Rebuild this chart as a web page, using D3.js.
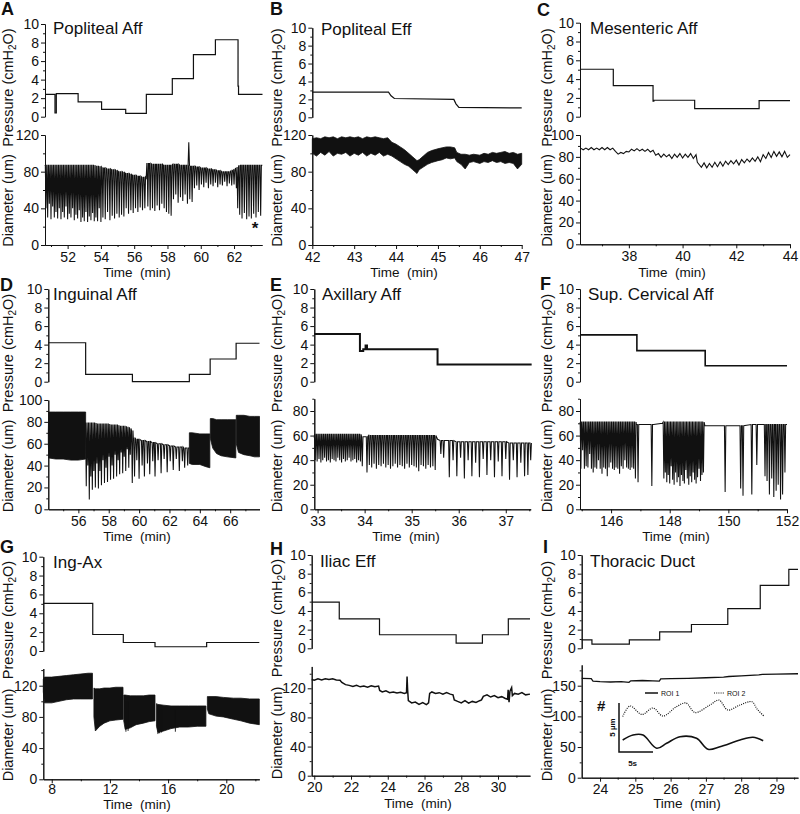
<!DOCTYPE html>
<html><head><meta charset="utf-8">
<script src="https://cdn.jsdelivr.net/npm/d3@7"></script>
<style>body{margin:0;background:#fff}svg{display:block}text{font-family:'Liberation Sans',Arial,Helvetica,sans-serif;fill:#111}</style>
</head><body><svg id="c" width="800" height="814"></svg>
<script>
// ---------------- DATA ----------------
const panelLetters = ["A","B","C","D","E","F","G","H","I"];
const panelTitles = ["Popliteal Aff","Popliteal Eff","Mesenteric Aff","Inguinal Aff","Axillary Aff","Sup. Cervical Aff","Ing-Ax","Iliac Eff","Thoracic Duct"];
const pTicks = [0,2,4,6,8,10];
const pMinor = [1,3,5,7,9];

// x tick labels (time, min)
const xTicksA=[52,54,56,58,60,62], xMinorA=[51,53,55,57,59,61,63];
const xTicksB=[42,43,44,45,46,47], xMinorB=[42.5,43.5,44.5,45.5,46.5];
const xTicksC=[38,40,42,44], xMinorC=[37,39,41,43];
const xTicksD=[56,58,60,62,64,66], xMinorD=[55,57,59,61,63,65,67];
const xTicksE=[33,34,35,36,37], xMinorE=[33.5,34.5,35.5,36.5,37.5];
const xTicksF=[146,148,150,152], xMinorF=[145,147,149,151];
const xTicksG=[8,12,16,20], xMinorG=[10,14,18,22];
const xTicksH=[20,22,24,26,28,30], xMinorH=[21,23,25,27,29,31];
const xTicksI=[24,25,26,27,28,29], xMinorI=[24.5,25.5,26.5,27.5,28.5,29.5];
// diameter tick labels (um)
const dTicks120=[0,40,80,120], dMinor120=[20,60,100,140];
const dTicks100=[0,20,40,60,80,100], dMinor100=[10,30,50,70,90];
const dTicks80=[0,20,40,60,80], dMinor80=[10,30,50,70,90];
const dTicks150=[0,50,100,150], dMinor150=[25,75,125,175];

// Pressure traces [time, cmH2O]
const presA=[[50.64,2.4],[51.24,0.4],[51.32,2.5],[52.63,1.6],[54.04,0.8],[55.49,0.35],[56.73,2.4],[58.29,4.1],[59.56,6.7],[60.88,8.3],[62.24,3.3],[62.27,2.4],[63.71,2.4]];
const presB=[[42,2.8],[43.82,2.8],[43.88,2.4],[43.96,2.1],[45.38,2.0],[45.43,1.5],[45.5,1.1],[47,1.05]];
const presC=[[36.18,5.05],[37.42,3.3],[38.9,1.65],[38.93,1.75],[40.45,0.85],[42.85,1.7],[44,1.7]];
const presD=[[54.02,4.2],[56.48,0.8],[59.56,0.0],[63.31,0.8],[64.68,2.45],[66.39,4.15],[67.93,4.15]];
const presE=[[32.93,5.15],[33.9,3.3],[33.97,3.5],[34.02,3.9],[34.05,3.5],[35.55,1.85],[37.55,1.85]];
const presF=[[144.94,5.05],[146.88,3.35],[149.21,1.72],[152,1.72]];
const presG=[[7.42,5.05],[10.82,1.75],[12.92,0.9],[15.1,0.45],[18.65,0.9],[22.27,0.9]];
const presH=[[19.86,4.95],[21.36,3.15],[23.55,1.45],[27.72,0.55],[29.15,1.45],[30.56,3.15],[31.74,3.15]];
const presI=[[23.48,0.9],[23.77,0.45],[24.83,0.9],[25.69,1.75],[26.59,2.55],[27.62,4.25],[28.54,6.75],[29.35,8.45],[29.61,8.45]];

// Diameter contraction events [time, EDD (top), ESD (bottom)]
const diaA=[[50.64,86,86],[50.70,87,40],[50.80,87,30],[50.90,87,45],[51.00,87,28],[51.10,87,42],[51.20,87,30],[51.30,87,36],[51.40,87,29],[51.50,87,40],[51.60,87,28],[51.70,87,36],[51.80,87,30],[51.90,87,42],[52.00,87,28],[52.10,87,34],[52.20,87,30],[52.30,87,40],[52.40,87,27],[52.50,87,33],[52.60,87,29],[52.70,87,38],[52.80,87,25],[52.90,87,30],[53.00,87,26],[53.10,87,36],[53.20,87,25],[53.30,87,31],[53.40,87,27],[53.50,87,35],[53.60,87,26],[53.70,86,30],[53.80,86,26],[53.90,86,40],[54.00,85,25],
[54.12,84,30],[54.26,84,28],[54.40,83,36],[54.54,83,27],[54.68,82,32],[54.82,82,29],[54.96,81,34],[55.10,80,30],[55.24,80,33],[55.38,79,31],[55.52,78,40],[55.66,78,34],[55.80,77,38],[55.94,76,35],[56.08,76,40],[56.22,75,36],[56.36,75,41],[56.50,74,38],[56.64,74,40],[56.72,73,73],
[56.76,89,89],[56.82,89,42],[56.96,89,38],[57.10,88,40],[57.24,88,37],[57.38,88,43],[57.52,88,38],[57.66,88,45],[57.80,87,40],[57.94,87,36],[58.08,87,34],[58.22,87,32],
[58.36,88,50],[58.50,88,55],[58.64,88,46],[58.78,87,52],[58.92,87,48],[59.06,87,55],[59.20,87,45],[59.28,87,112],[59.34,86,50],[59.48,86,47],
[59.62,86,62],[59.76,85,65],[59.90,85,60],[60.04,84,66],[60.18,84,63],[60.32,84,68],[60.46,83,62],[60.60,83,66],[60.74,82,64],[60.88,82,68],[61.02,81,63],[61.16,81,66],[61.30,80,65],[61.44,80,69],[61.58,80,64],[61.72,80,67],[61.86,81,65],[62.00,82,66],[62.14,84,62],[62.22,85,40],
[62.34,87,33],[62.48,87,29],[62.62,87,35],[62.76,87,28],[62.90,87,31],[63.04,87,29],[63.18,87,34],[63.32,87,30],[63.46,87,36],[63.60,87,32],[63.70,87,87]];

// Dense bands [time, upper, lower] (null = gap)
const bandB=[[42.00,116,100],[42.1,117,97],[42.2,116,101],[42.3,118,98],[42.4,117,102],[42.5,118,97],[42.6,116,100],[42.7,118,99],[42.8,117,101],[42.9,118,97],[43.0,117,100],[43.1,118,98],[43.2,116,101],[43.3,118,97],[43.4,117,100],[43.5,118,98],[43.6,117,101],[43.7,116,97],[43.8,117,99],[43.9,112,97],[44.0,110,94],[44.1,107,91],[44.2,104,88],[44.3,100,86],[44.4,96,82],[44.5,92,78],[44.55,93,82],[44.65,97,85],[44.75,101,88],[44.85,103,90],[45.0,105,92],[45.1,106,93],[45.2,107,95],[45.3,107,94],[45.4,106,95],[45.45,101,91],[45.55,99,88],[45.65,99,83],[45.75,98,90],[45.85,99,91],[46.0,98,89],[46.1,100,91],[46.2,99,90],[46.3,101,92],[46.4,100,90],[46.5,101,91],[46.6,102,89],[46.7,100,90],[46.8,101,89],[46.9,99,83],[47.0,100,88]];

// Mesenteric diameter trace [time, um]
const diaC=[[36.2,88],[36.3,86.5],[36.4,88],[36.5,86.5],[36.6,88.5],[36.7,86.5],[36.8,88],[36.9,86.5],[37.0,88.5],[37.1,86.5],[37.2,88.5],[37.3,86.5],[37.4,88],[37.5,85],[37.6,82.5],[37.7,84],[37.8,83],[37.9,85],[38.0,84.5],[38.1,87],[38.2,85.5],[38.3,87.5],[38.4,85.5],[38.5,87],[38.6,85],[38.7,87],[38.8,84.5],[38.9,86],[39.0,81.5],[39.1,83],[39.2,79.5],[39.3,82.5],[39.4,80],[39.5,82],[39.6,78.5],[39.7,82.5],[39.8,79.5],[39.9,83],[40.0,79],[40.1,82.5],[40.2,79.5],[40.3,83],[40.4,78.5],[40.5,82],[40.55,75],[40.7,70.5],[40.8,74.5],[40.9,70],[41.0,74],[41.1,70.5],[41.2,75],[41.3,71],[41.4,75.5],[41.5,71.5],[41.6,76],[41.7,73],[41.8,76.5],[41.9,73.5],[42.0,77],[42.1,72.5],[42.2,77.5],[42.3,74.5],[42.4,78],[42.5,75.5],[42.6,79],[42.7,76],[42.8,80],[42.9,75.5],[43.0,82],[43.1,78.5],[43.2,84],[43.3,79.5],[43.4,85],[43.5,80.5],[43.6,84.5],[43.7,80],[43.8,85],[43.9,79.5],[44.0,82]];

const bandD=[[54.02,72,62],[54.05,89,47],[54.5,89,46],[55.0,89,46],[55.5,89,45],[56.0,89,45],[56.48,89,46],null,
[63.31,70,42],[63.5,70,41],[64.0,69,41],[64.4,69,39],[64.66,69,38],null,
[64.69,83,65],[64.85,83,56],[65.1,82,51],[65.4,82,49],[65.8,82,48],[66.37,82,47],null,
[66.40,86,60],[66.55,86,52],[66.9,86,50],[67.3,85,49],[67.6,85,48],[67.93,85,48]];
const diaD=[[56.50,79,79],[56.52,79,21],[56.62,79,40],[56.72,79,9],[56.82,79,30],[56.92,79,18],[57.02,79,35],[57.12,79,20],[57.22,78,42],[57.32,78,19],[57.42,78,35],[57.52,78,22],[57.62,78,45],[57.72,78,24],[57.82,78,38],[57.92,78,25],[58.02,78,48],[58.12,77,27],[58.22,77,40],[58.32,77,28],[58.42,77,50],[58.52,77,30],[58.62,77,45],[58.72,76,32],[58.82,76,52],[58.92,76,33],[59.02,76,48],[59.12,76,35],[59.22,75,55],[59.32,75,38],[59.42,74,50],[59.55,72,24],
[59.62,65,65],[59.70,65,30],[59.85,64,45],[60.00,64,28],[60.20,63,40],[60.35,63,30],[60.55,62,42],[60.70,62,32],[60.90,61,44],[61.05,61,30],[61.25,60,45],[61.45,60,33],[61.65,59,46],[61.85,59,34],[62.05,58,44],[62.25,58,36],[62.45,57,46],[62.65,57,35],[62.85,57,44],[63.00,56,38],[63.20,56,40],[63.30,56,56]];

const diaE=[[32.93,58,58],
[32.95,61,40],[32.99,61,39],[33.03,61,41],[33.07,61,38],[33.11,61,40],[33.15,61,42],[33.19,61,39],[33.23,61,40],[33.27,61,38],[33.31,61,41],[33.35,61,40],[33.39,61,39],[33.43,61,42],[33.47,61,40],[33.51,61,38],[33.55,61,41],[33.59,61,39],[33.63,61,40],[33.67,61,42],[33.71,61,39],[33.75,61,40],[33.79,61,41],[33.83,61,38],[33.87,61,40],[33.91,61,39],
[33.95,59,35],[34.00,59,59],[34.05,59,30],
[34.10,60,36],[34.15,60,34],[34.20,60,37],[34.25,60,33],[34.30,60,36],[34.35,60,35],[34.40,60,37],[34.45,60,34],[34.50,60,36],[34.55,60,33],[34.60,60,35],[34.65,60,37],[34.70,60,34],[34.75,60,36],[34.80,60,35],[34.85,60,33],[34.90,60,37],[34.95,60,34],[35.00,60,36],[35.05,60,35],[35.10,60,34],[35.15,60,31],[35.20,60,36],[35.25,60,35],[35.30,60,33],[35.35,60,36],[35.40,60,34],[35.45,60,35],[35.50,60,32],
[35.55,57,57],[35.62,56,45],[35.68,56,42],[35.74,56,56],[35.80,56,26],[35.88,56,40],[35.96,55,27],[36.04,55,42],[36.12,55,25],[36.20,55,40],[36.28,55,27],[36.36,55,38],[36.44,55,26],[36.52,55,41],[36.60,55,28],[36.68,55,40],[36.76,55,26],[36.84,55,39],[36.92,55,27],[37.00,55,41],[37.08,54,24],[37.16,54,40],[37.24,54,26],[37.32,54,38],[37.40,54,27],[37.47,54,28],[37.53,54,40]];

const diaF=[[144.94,71,71],
[144.97,71,33],[145.03,71,48],[145.09,71,33],[145.15,71,35],[145.21,71,34],[145.27,71,45],[145.33,71,33],[145.39,71,30],[145.45,71,34],[145.51,71,33],[145.57,71,40],[145.63,71,33],[145.69,71,29],[145.75,71,34],[145.81,71,33],[145.87,71,27],[145.93,71,34],[145.99,71,38],[146.05,71,33],[146.11,71,32],[146.17,71,34],[146.23,71,33],[146.29,71,29],[146.35,71,35],[146.41,71,33],[146.47,71,40],[146.53,71,34],[146.59,71,33],[146.65,71,32],[146.71,71,34],[146.77,71,33],[146.83,71,25],
[146.86,69,69],[146.92,69,22],[147.00,69,69],[147.39,69,19],[147.45,69,69],[147.75,70,70],
[147.80,71,25],[147.85,71,30],[147.90,71,22],[147.95,71,28],[148.00,71,21],[148.05,71,35],[148.10,71,24],[148.15,71,20],[148.20,71,30],[148.25,71,22],[148.30,71,26],[148.35,71,19],[148.40,71,28],[148.45,71,23],[148.50,71,21],[148.55,71,32],[148.60,71,25],[148.65,71,20],[148.70,71,27],[148.75,71,22],[148.80,71,30],[148.85,71,24],[148.90,71,21],[148.95,71,26],[149.00,71,33],[149.05,71,23],[149.10,71,28],[149.15,71,30],
[149.20,68,68],[149.89,68,14],[150.42,68,17],[150.50,68,11],[150.80,69,12],[150.97,69,36],[151.25,69,27],[151.32,69,23],[151.40,69,12],[151.48,69,25],[151.55,69,10],[151.63,69,15],[151.70,69,20],[151.78,69,8],[151.85,69,12],[151.93,69,30],[152.00,69,69]];

const bandG=[[7.42,128,112],[7.5,131,98],[8.0,131,98],[8.5,132,100],[9.0,133,102],[9.5,134,103],[10.0,135,103],[10.5,136,103],[10.8,136,103],null,
[10.9,117,80],[11.0,116,62],[11.3,116,68],[11.6,117,72],[12.0,117,75],[12.4,118,76],[12.9,118,77],null,
[12.95,108,75],[13.05,108,64],[13.4,107,66],[13.8,107,70],[14.3,107,72],[14.7,108,74],[15.1,108,75],null,
[15.2,97,68],[15.3,96,60],[15.7,95,62],[16.2,94,65],[16.8,94,67],[17.4,94,67],[18.0,94,68],[18.6,94,68],null,
[18.7,106,90],[18.8,106,84],[19.3,106,81],[19.8,105,80],[20.5,104,77],[21.0,104,75],[21.6,103,72],[22.27,103,70]];
const dropsG=[[13.1,100,61],[13.25,100,62],[15.3,90,58],[15.42,90,59],[15.55,90,60],[16.5,90,61]];

const diaH=[[19.86,132],[20.0,131],[20.2,133],[20.4,131.5],[20.6,133],[20.8,132],[21.0,133],[21.2,131.5],[21.4,131],[21.5,128],[21.7,125],[21.9,124],[22.1,122.5],[22.3,124],[22.5,122],[22.7,123],[22.9,121.5],[23.1,123.5],[23.3,122],[23.5,123],[23.56,117],[23.7,115],[23.9,116.5],[24.1,114],[24.3,115],[24.5,113.5],[24.7,114.5],[24.9,113],[25.02,114],[25.05,136],[25.08,118],[25.12,103],[25.3,100],[25.5,101],[25.7,98],[25.9,100.5],[26.1,97.5],[26.22,100],[26.28,113],[26.4,115],[26.6,113],[26.8,114],[27.0,112],[27.2,114],[27.4,112],[27.55,111],[27.62,104],[27.8,102],[28.0,100],[28.2,103],[28.4,99.5],[28.6,102],[28.8,100.5],[29.0,103],[29.1,104],[29.2,109],[29.4,111],[29.6,108],[29.8,110],[30.0,107],[30.2,108.5],[30.4,106],[30.52,105],[30.55,118],[30.6,101],[30.65,116],[30.74,121],[30.78,110],[30.9,113],[31.1,112],[31.3,114],[31.5,111],[31.74,112]];

const diaI=[[23.48,162],[23.75,161.5],[23.8,157.5],[24.0,156.5],[24.3,156],[24.6,156.5],[24.82,155.5],[24.87,158],[25.2,158.5],[25.5,158],[25.68,157.5],[25.72,161],[26.0,161.5],[26.5,162],[27.0,163],[27.5,164],[27.65,165],[28.0,166],[28.5,167.5],[28.6,168.5],[29.0,169],[29.61,169.5]];

// Inset (Thoracic duct): [seconds, relative um]
const roi1=[[0.54,1.22],[2.06,1.73],[3.53,1.73],[5.54,0.38],[7.0,0.89],[8.97,1.56],[11.4,1.4],[13.1,0.28],[14.85,0.54],[17.8,1.22],[19.7,1.5],[21.2,1.15]];
const roi2=[[0.54,3.62],[1.62,4.69],[3.38,3.83],[5.0,4.49],[6.47,3.67],[8.38,4.59],[9.85,5.0],[11.18,4.03],[13.38,4.8],[14.7,5.3],[16.0,4.29],[17.8,4.8],[19.56,5.13],[20.3,4.39],[21.3,3.67]];
const roiNames=["ROI 1","ROI 2"];

// ---------------- LAYOUT ----------------
const layout=[
 {ax:45,ax2:262,xDom:[50.64,63.68],p10:24,p0:116.7,d0:245,dRefV:120,dRefY:135,dTop:120,lx:13,lp:87.5,ld:200.5,tx:53,ty:34,Lx:1,Ly:15,tmx:137,tmy:277,tp:3},
 {ax:312.3,ax2:521.7,xDom:[42,47],p10:27.7,p0:117.3,d0:245,dRefV:120,dRefY:135,dTop:120,lx:282,lp:87.5,ld:200.5,tx:321,ty:35,Lx:270,Ly:15,tmx:404,tmy:277,tp:3},
 {ax:580,ax2:790,xDom:[36.18,44],p10:22.7,p0:116.7,d0:244.3,dRefV:100,dRefY:135,dTop:100,lx:552,lp:87.5,ld:200.5,tx:590,ty:34,Lx:537,Ly:16,tmx:672,tmy:277,tp:3},
 {ax:48.3,ax2:259.5,xDom:[54.02,67.93],p10:289,p0:381.7,d0:509.3,dRefV:100,dRefY:400,dTop:100,lx:13,lp:353,ld:466,tx:53,ty:300,Lx:0,Ly:291,tmx:137,tmy:541,tp:3},
 {ax:314.3,ax2:530.7,xDom:[32.93,37.53],p10:289,p0:381.7,d0:509.3,dRefV:80,dRefY:411,dTop:90,lx:282,lp:353,ld:466,tx:322,ty:300,Lx:270,Ly:291,tmx:406,tmy:541,tp:3},
 {ax:580,ax2:787,xDom:[144.94,152],p10:289,p0:381.7,d0:509.3,dRefV:80,dRefY:411,dTop:90,lx:552,lp:353,ld:466,tx:588,ty:300,Lx:540,Ly:290,tmx:676,tmy:541,tp:3},
 {ax:43.3,ax2:259.3,xDom:[7.42,22.27],p10:556.7,p0:651,d0:779.3,dRefV:120,dRefY:685.7,dTop:142,lx:13,lp:620,ld:735,tx:53,ty:568,Lx:0,Ly:553,tmx:137,tmy:809,tp:1},
 {ax:311.7,ax2:530,xDom:[19.86,31.74],p10:555,p0:648.3,d0:775.7,dRefV:120,dRefY:688.3,dTop:150,lx:282,lp:618,ld:733,tx:320,ty:567,Lx:270,Ly:555,tmx:418,tmy:808,tp:2},
 {ax:581.7,ax2:798,xDom:[23.48,29.61],p10:555,p0:648.3,d0:777.7,dRefV:150,dRefY:685.7,dTop:184,lx:552,lp:620,ld:735,tx:590,ty:567,Lx:543,Ly:553,tmx:687,tmy:808,tp:2}
];
const series=[
 {pres:presA,step:true,spikes:diaA,xt:xTicksA,xm:xMinorA,dt:dTicks120,dm:dMinor120},
 {pres:presB,step:false,band:bandB,xt:xTicksB,xm:xMinorB,dt:dTicks120,dm:dMinor120},
 {pres:presC,step:true,line:diaC,xt:xTicksC,xm:xMinorC,dt:dTicks100,dm:dMinor100},
 {pres:presD,step:true,band:bandD,spikes:diaD,xt:xTicksD,xm:xMinorD,dt:dTicks100,dm:dMinor100},
 {pres:presE,step:true,spikes:diaE,xt:xTicksE,xm:xMinorE,dt:dTicks80,dm:dMinor80,pw:2},
 {pres:presF,step:true,spikes:diaF,xt:xTicksF,xm:xMinorF,dt:dTicks80,dm:dMinor80,pw:1.6},
 {pres:presG,step:true,band:bandG,drops:dropsG,xt:xTicksG,xm:xMinorG,dt:dTicks120,dm:dMinor120},
 {pres:presH,step:true,line:diaH,xt:xTicksH,xm:xMinorH,dt:dTicks120,dm:dMinor120,lw:1.5},
 {pres:presI,step:true,line:diaI,xt:xTicksI,xm:xMinorI,dt:dTicks150,dm:dMinor150,lw:1.3}
];

// ---------------- DRAW ----------------
const svg=d3.select("#c");
function styleAxis(sel){
  sel.attr("font-size",null).attr("font-family",null);
  sel.selectAll("path,line").attr("stroke","#111").attr("stroke-width",1);
  sel.selectAll("text").attr("font-size","14px").attr("fill","#111");
}
function yAxis(g,scale,x,major,minor){
  g.append("g").attr("transform",`translate(${x},0)`)
   .call(d3.axisLeft(scale).tickValues(major).tickSize(4).tickPadding(2).tickSizeOuter(0).tickFormat(d3.format("d"))).call(styleAxis);
  g.append("g").attr("transform",`translate(${x},0)`)
   .call(d3.axisLeft(scale).tickValues(minor.filter(v=>v<=scale.domain()[1])).tickSize(2).tickFormat("").tickSizeOuter(0)).call(styleAxis);
}
function xAxis(g,scale,y,major,minor,pad){
  g.append("g").attr("transform",`translate(0,${y})`)
   .call(d3.axisBottom(scale).tickValues(major).tickSize(4).tickPadding(pad).tickSizeOuter(0).tickFormat(d3.format("d"))).call(styleAxis);
  g.append("g").attr("transform",`translate(0,${y})`)
   .call(d3.axisBottom(scale).tickValues(minor.filter(v=>v>=scale.domain()[0]&&v<=scale.domain()[1])).tickSize(2).tickFormat("").tickSizeOuter(0)).call(styleAxis);
}
function spikePath(x,y,sp){
  let p="";
  sp.forEach((s,i)=>{
    const xt=x(s[0]);
    const c=i?"L":"M";
    if(s[1]===s[2]) p+=c+xt+","+y(s[1]);
    else p+=c+(xt-0.7)+","+y(s[1])+"L"+xt+","+y(s[2])+"L"+(xt+0.7)+","+y(s[1]);
  });
  return p;
}

layout.forEach((L,i)=>{
  const S=series[i];
  const g=svg.append("g");
  const x=d3.scaleLinear().domain(L.xDom).range([L.ax,L.ax2]);
  const yP=d3.scaleLinear().domain([0,10]).range([L.p0,L.p10]);
  const yRef=d3.scaleLinear().domain([0,L.dRefV]).range([L.d0,L.dRefY]);
  const yD=d3.scaleLinear().domain([0,L.dTop]).range([L.d0,yRef(L.dTop)]);

  yAxis(g,yP,L.ax,pTicks,pMinor);
  yAxis(g,yD,L.ax,S.dt,S.dm);
  xAxis(g,x,L.d0,S.xt,S.xm,L.tp);

  // pressure
  g.append("path").attr("d",d3.line().x(d=>x(d[0])).y(d=>yP(d[1])).curve(S.step?d3.curveStepAfter:d3.curveLinear)(S.pres))
   .attr("fill","none").attr("stroke","#111").attr("stroke-width",S.pw||1.2);

  // diameter
  if(S.band){
    g.append("path").attr("d",d3.area().defined(d=>d!==null).x(d=>x(d[0])).y0(d=>yD(d[2])).y1(d=>yD(d[1]))(S.band))
     .attr("fill","#111").attr("stroke","#111").attr("stroke-width",0.8);
  }
  if(S.spikes){
    g.append("path").attr("d",spikePath(x,yD,S.spikes)).attr("fill","none").attr("stroke","#111").attr("stroke-width",1.05).attr("stroke-linejoin","miter");
  }
  if(S.drops){
    g.append("path").attr("d",S.drops.map(s=>`M${x(s[0])},${yD(s[1])}L${x(s[0])},${yD(s[2])}`).join(""))
     .attr("stroke","#111").attr("stroke-width",0.9);
  }
  if(S.line){
    g.append("path").attr("d",d3.line().x(d=>x(d[0])).y(d=>yD(d[1]))(S.line))
     .attr("fill","none").attr("stroke","#111").attr("stroke-width",S.lw||1.1);
  }

  // labels
  const pl=g.append("text").attr("transform",`translate(${L.lx},${L.lp}) rotate(-90)`).attr("text-anchor","middle").attr("font-size","14.5px");
  pl.append("tspan").text("Pressure (cmH");
  pl.append("tspan").attr("dy",3).attr("font-size","10px").text("2");
  pl.append("tspan").attr("dy",-3).text("O)");
  g.append("text").attr("transform",`translate(${L.lx},${L.ld}) rotate(-90)`).attr("text-anchor","middle").attr("font-size","14.5px").text("Diameter (um)");
  g.append("text").attr("x",L.tmx).attr("y",L.tmy).attr("text-anchor","middle").attr("font-size","13.5px").style("white-space","pre").text("Time  (min)");
  g.append("text").attr("x",L.tx).attr("y",L.ty).attr("font-size","17px").text(panelTitles[i]);
  g.append("text").attr("x",L.Lx).attr("y",L.Ly).attr("font-size","18px").attr("font-weight","bold").text(panelLetters[i]);

  if(i===0){
    g.append("text").attr("x",255).attr("y",234).attr("text-anchor","middle").attr("font-size","17px").attr("font-weight","bold").text("*");
  }
});

// Inset in panel I
const ix=d3.scaleLinear().domain([0,5]).range([619,653]);
const iy=d3.scaleLinear().domain([0,5]).range([752,703]);
const ins=svg.append("g");
ins.append("path").attr("d",d3.line().x(d=>ix(d[0])).y(d=>iy(d[1])).curve(d3.curveCatmullRom)(roi1)).attr("fill","none").attr("stroke","#111").attr("stroke-width",1.6);
ins.append("path").attr("d",d3.line().x(d=>ix(d[0])).y(d=>iy(d[1])).curve(d3.curveCatmullRom)(roi2)).attr("fill","none").attr("stroke","#111").attr("stroke-width",1.2).attr("stroke-dasharray","1,1.2");
ins.append("path").attr("d",`M${ix(0)},${iy(5)}L${ix(0)},${iy(0)}L${ix(5)},${iy(0)}`).attr("fill","none").attr("stroke","#111").attr("stroke-width",1.5);
ins.append("text").attr("x",ix(2)).attr("y",766).attr("text-anchor","middle").attr("font-size","8px").attr("font-weight","bold").text("5s");
ins.append("text").attr("transform",`translate(${615},${iy(2.5)}) rotate(-90)`).attr("text-anchor","middle").attr("font-size","8px").attr("font-weight","bold").text("5 µm");
ins.append("text").attr("x",597).attr("y",711).attr("font-size","15px").attr("font-weight","bold").text("#");
ins.append("line").attr("x1",645).attr("x2",658).attr("y1",693).attr("y2",693).attr("stroke","#111").attr("stroke-width",1.5);
ins.append("text").attr("x",661).attr("y",696).attr("font-size","7px").text(roiNames[0]);
ins.append("line").attr("x1",714).attr("x2",724).attr("y1",693).attr("y2",693).attr("stroke","#111").attr("stroke-width",1.2).attr("stroke-dasharray","1,1.2");
ins.append("text").attr("x",727).attr("y",696).attr("font-size","7px").text(roiNames[1]);
</script></body></html>
